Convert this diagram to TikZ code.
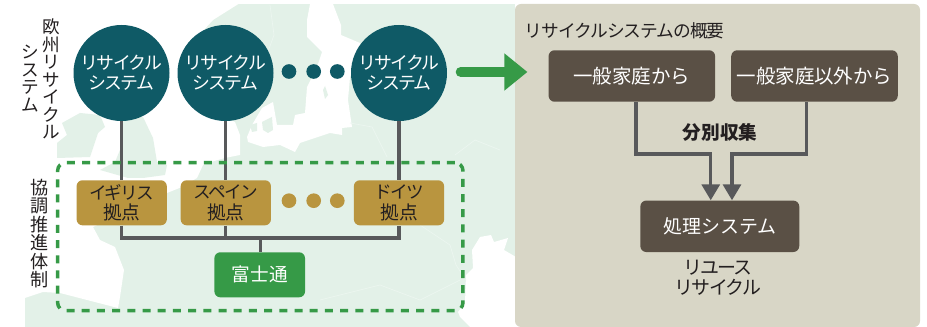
\documentclass[tikz,border=0pt]{standalone}
\usepackage{fontspec}
\setmainfont{Noto Sans CJK JP}
\newfontfamily\kt[LetterSpace=-10]{Noto Sans CJK JP}
\newfontfamily\kts[LetterSpace=-6]{Noto Sans CJK JP}
\usetikzlibrary{arrows.meta}
\definecolor{land}{HTML}{E3F1E8}
\definecolor{border}{HTML}{ECF6F0}
\definecolor{panel}{HTML}{D8D6C6}
\definecolor{teal}{HTML}{0F5A66}
\definecolor{gold}{HTML}{B9953F}
\definecolor{grn}{HTML}{369A47}
\definecolor{brn}{HTML}{5A5045}
\definecolor{linec}{HTML}{58595B}
\definecolor{ink}{HTML}{231F20}
\newcommand{\kj}[1]{{\rmfamily\fontsize{14}{15.5}\selectfont #1}}
\tikzset{
  sysc/.style={circle,fill=teal,text=white,minimum size=72pt,inner sep=0pt,align=center,font=\kt\fontsize{13.4}{15}\selectfont},
  dotc/.style={circle,fill=teal,minimum size=11pt,inner sep=0pt},
  golddot/.style={circle,fill=gold,minimum size=11pt,inner sep=0pt},
  base/.style={rounded corners=4.5pt,fill=gold,text=ink,minimum width=67.7pt,minimum height=33.8pt,inner sep=0pt,align=center,font=\kt\fontsize{13.2}{15.5}\selectfont},
  fuji/.style={rounded corners=4.5pt,fill=grn,text=white,minimum width=68pt,minimum height=33.8pt,inner sep=0pt,font=\fontsize{14}{15}\selectfont},
  brnbox/.style={rounded corners=4.5pt,fill=brn,text=white,minimum height=38.6pt,inner sep=0pt,font=\fontsize{14.6}{16}\selectfont},
  conn/.style={draw=linec,line width=2.5pt},
  label/.style={text=ink,inner sep=0pt,align=center},
  vlabel/.style={text=ink,inner sep=0pt,align=center,font=\fontsize{13.2}{13.1}\selectfont},
  seaw/.style={fill=white,draw=none},
  landp/.style={fill=land,draw=none},
  bord/.style={draw=border,line width=0.5pt}
}
\begin{document}
\begin{tikzpicture}[x=0.75pt,y=-0.75pt]
\useasboundingbox (0,0) rectangle (927,327);
% map
\fill[land] (25,4) rectangle (515,327);
\fill[seaw] (24,3) -- (240,3) -- (213,20) -- (190,45) -- (190,100) -- (235,122) -- (240,135) -- (240,155) -- (225,158) -- (207,163) -- (203,165) -- (197,178) -- (182,187) -- (167,193) -- (93,227) -- (100,240) -- (115,247) -- (124,270) -- (120,297) -- (118,308) -- (60,293) -- (43,292) -- (25,298) -- cycle;
\fill[landp] (62,123) -- (80,113) -- (100,115) -- (105,127) -- (98,133) -- (90,157) -- (57,158) -- (57,143) -- (67,135) -- cycle;
\fill[landp] (122,110) -- (143,117) -- (153,138) -- (157,162) -- (167,165) -- (165,175) -- (143,178) -- (128,178) -- (100,170) -- (115,162) -- (120,150) -- cycle;
\fill[seaw] (310,4) -- (333,4) -- (341,25) -- (341,35) -- (360,43) -- (360,60) -- (350,77) -- (348,100) -- (352,127) -- (342,128) -- (342,135) -- (330,133) -- (300,143) -- (295,152) -- (280,145) -- (263,147) -- (248,142) -- (247,137) -- (252,125) -- (262,108) -- (273,102) -- (277,125) -- (293,125) -- (295,115) -- (305,113) -- (307,87) -- (317,67) -- (322,52) -- (307,37) -- (307,20) -- cycle;
\fill[landp] (250,125) -- (257,123) -- (257,131) -- (252,132) -- cycle;
\fill[landp] (262,122) -- (272,117) -- (273,130) -- (268,133) -- (263,130) -- cycle;
\fill[landp] (325,86) -- (328,95) -- (325,99) -- (323,90) -- cycle;
\fill[seaw] (472,250) -- (480,237) -- (491,235) -- (494,242) -- (508,238) -- (504,250) -- (516,257) -- (516,327) -- (470,327) -- (460,317) -- (458,312) -- (465,303) -- (466,275) -- (473,268) -- cycle;
\draw[bord] (350,123) -- (372,127) -- (387,157);
\draw[bord] (455,155) -- (475,140) -- (500,150);
\draw[bord] (420,225) -- (450,245) -- (456,265) -- (466,280);
\draw[bord] (320,300) -- (380,285) -- (420,300) -- (460,280);
\draw[bord] (270,5) -- (274,35) -- (265,60);
% panel
\node[fill=panel,rounded corners=4.5pt,minimum width=303.75pt,minimum height=242.25pt,inner sep=0pt] (panelbox) at (717.5,165.5) {};
% circles
\node[sysc] (c1) at (121.5,73) {リサイクル\\システム};
\node[sysc] (c2) at (225.5,73) {リサイクル\\システム};
\node[sysc] (c3) at (399,73) {リサイクル\\システム};
\node[dotc] (d1) at (289,71.5) {};
\node[dotc] (d2) at (313.7,71.5) {};
\node[dotc] (d3) at (337.3,71.5) {};
% bases
\node[base] (g1) at (121.7,202.8) {イギリス\\\kj{拠点}};
\node[base] (g2) at (225.8,202.8) {スペイン\\\kj{拠点}};
\node[base] (g3) at (399,202.8) {ドイツ\\\kj{拠点}};
\node[golddot] (e1) at (289,200.7) {};
\node[golddot] (e2) at (313.7,200.7) {};
\node[golddot] (e3) at (337.3,200.7) {};
\node[fuji] (fj) at (259.7,274.8) {富士通};
\coordinate (bus) at (260.3,238);
\draw[conn] (c1) -- (c1 |- g1.north);
\draw[conn] (c2) -- (c2 |- g2.north);
\draw[conn] (c3) -- (c3 |- g3.north);
\draw[conn] (c1 |- g1.south) |- (bus) -| (c3 |- g3.south);
\draw[conn] (c2 |- g2.south) -- (c2 |- bus);
\draw[conn] (bus) -- (bus |- fj.north);
\node[draw=grn,line width=2.6pt,dash pattern=on 6pt off 5.4pt,rounded corners=6pt,minimum width=304pt,minimum height=111pt,inner sep=0pt] (frame) at (260.3,236.7) {};
% labels left
\node[vlabel] (l1) at (51.7,79) {欧\\州\\リ\\サ\\イ\\ク\\ル};
\node[vlabel] (l2) at (30.7,78.5) {シ\\ス\\テ\\ム};
\node[vlabel,font=\fontsize{13.6}{13.9}\selectfont] (l3) at (40,233.5) {協\\調\\推\\進\\体\\制};
% big arrow
\coordinate (as) at (460.7,72);
\coordinate (ae) at (505,72);
\draw[grn,line width=7.5pt,line cap=round] (as) -- (ae);
\fill[grn] (504.3,53.3) -- (527.3,72) -- (504.3,90.7) -- cycle;
% right
\node[label,anchor=west,font=\kts\fontsize{13.3}{15}\selectfont] (title) at (524.5,30.7) {リサイクルシステムの概要};
\node[brnbox,minimum width=124.9pt] (b1) at (631.85,76) {一般家庭から};
\node[brnbox,minimum width=124.9pt] (b2) at (814.5,76) {一般家庭以外から};
\node[brnbox,minimum width=119.2pt,font=\fontsize{14.2}{16}\selectfont] (p) at (719.8,226.3) {処理システム};
\draw[conn,-{Triangle[width=13.5pt,length=12pt]}] ([xshift=3.1pt]b1.south) -- ++(0,52) -| ([xshift=-6.8pt]p.north);
\draw[conn,-{Triangle[width=13.5pt,length=12pt]}] ([xshift=-5.85pt]b2.south) -- ++(0,52) -| ([xshift=9.15pt]p.north);
\node[label,font=\bfseries\fontsize{14}{15}\selectfont] (sep) at (720,132) {分別収集};
\node[label,font=\kt\fontsize{14.2}{15}\selectfont] (out) at (718,278) {リユース\\リサイクル};
\end{tikzpicture}
\end{document}
